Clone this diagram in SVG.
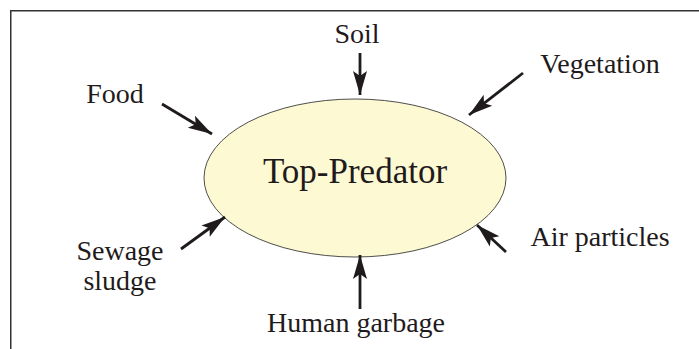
<svg xmlns="http://www.w3.org/2000/svg" width="699" height="349" viewBox="0 0 699 349">
  <style>
    .lbl { font-family: "Liberation Serif", "Times New Roman", serif; font-size: 28px; fill: #1f1b1c; }
    .title { font-family: "Liberation Serif", "Times New Roman", serif; font-size: 35px; fill: #1f1b1c; }
    .arr { stroke: #1f1b1c; stroke-width: 2.8; fill: none; marker-end: url(#ah); }
  </style>
  <defs>
    <marker id="ah" markerUnits="userSpaceOnUse" markerWidth="26" markerHeight="16" refX="24" refY="8" orient="auto">
      <path d="M0,1 L24,8 L0,15 L5,8 Z" fill="#1f1b1c"/>
    </marker>
  </defs>
  <rect x="0" y="0" width="699" height="349" fill="#ffffff"/>
  <rect x="10.75" y="10.75" width="720" height="400" fill="none" stroke="#333333" stroke-width="1.5"/>

  <g id="top-predator">
    <ellipse cx="355" cy="178" rx="151" ry="79" fill="#fdf9d2" stroke="#3a3a3a" stroke-width="0.9"/>
    <text class="title" x="355" y="183" text-anchor="middle">Top-Predator</text>
  </g>

  <g id="soil"><text class="lbl" x="357" y="43" text-anchor="middle">Soil</text></g>
  <g id="vegetation"><text class="lbl" x="600" y="73" text-anchor="middle">Vegetation</text></g>
  <g id="food"><text class="lbl" x="115" y="103" text-anchor="middle">Food</text></g>
  <g id="sewage-sludge">
    <text class="lbl" x="120" y="260" text-anchor="middle">Sewage</text>
    <text class="lbl" x="120" y="290" text-anchor="middle">sludge</text>
  </g>
  <g id="air-particles"><text class="lbl" x="600" y="246" text-anchor="middle">Air particles</text></g>
  <g id="human-garbage"><text class="lbl" x="356" y="332" text-anchor="middle">Human garbage</text></g>

  <g id="connectors">
    <line class="arr" x1="360" y1="53" x2="360" y2="95"/>
    <line class="arr" x1="523" y1="73" x2="469" y2="115"/>
    <line class="arr" x1="162" y1="104" x2="212" y2="134"/>
    <line class="arr" x1="181" y1="249" x2="225" y2="217"/>
    <line class="arr" x1="506" y1="252" x2="477" y2="225"/>
    <line class="arr" x1="360" y1="309" x2="360" y2="255"/>
  </g>
</svg>
